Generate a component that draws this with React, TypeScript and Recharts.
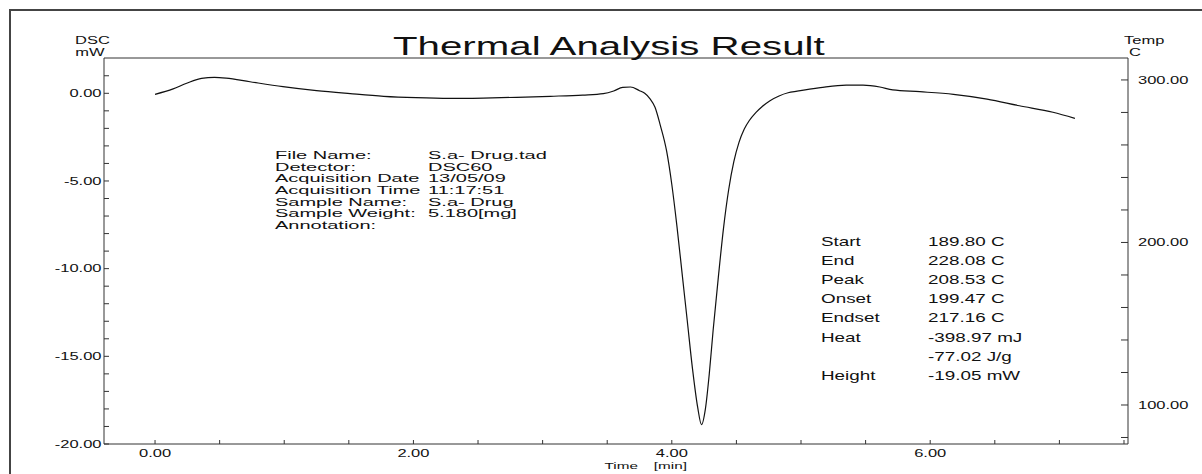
import React from 'react';
import { ComposedChart, Line, XAxis, YAxis, ReferenceLine } from 'recharts';

const FONT = '"Liberation Sans", Arial, Helvetica, sans-serif';
const AXIS = '#333';
const INK = '#111';

// DSC trace (time in min, signal in mW)
const TIME_MIN = [
  0.0, 0.14, 0.245, 0.36, 0.46, 0.55, 0.735, 0.99, 1.25, 1.51, 1.77, 2.02, 2.28, 2.54, 2.8, 3.06,
  3.31, 3.47, 3.55, 3.62, 3.68, 3.75, 3.79, 3.83, 3.87, 3.91, 3.96, 4.0, 4.04, 4.08, 4.12, 4.16,
  4.2, 4.23, 4.26, 4.29, 4.32, 4.36, 4.4, 4.44, 4.48, 4.52, 4.56, 4.6, 4.65, 4.7, 4.76, 4.83,
  4.9, 4.97, 5.15, 5.35, 5.48, 5.61, 5.71, 5.92, 6.18, 6.44, 6.69, 6.95, 7.12,
];
const DSC_MW = [
  -0.06, 0.25, 0.57, 0.85, 0.91, 0.87, 0.66, 0.38, 0.15, -0.02, -0.17, -0.25, -0.29, -0.27, -0.23, -0.17,
  -0.1, -0.02, 0.13, 0.34, 0.36, 0.15, 0.0, -0.3, -0.8, -1.8, -3.3, -5.2, -7.6, -10.3, -13.0, -15.7,
  -17.9, -18.9, -18.0, -16.0, -13.5, -10.5, -7.7, -5.5, -3.9, -2.8, -2.05, -1.55, -1.1, -0.75, -0.42, -0.15,
  0.03, 0.12, 0.32, 0.47, 0.47, 0.36, 0.19, 0.09, -0.06, -0.33, -0.71, -1.08, -1.43,
];

const X_DOMAIN = [-0.395, 7.531];
const X_TICKS = [0, 0.5, 1, 1.5, 2, 2.5, 3, 3.5, 4, 4.5, 5, 5.5, 6, 6.5, 7, 7.5];
const X_LABELS = [0, 2, 4, 6];

const DSC_DOMAIN = [-20, 2.013];
const DSC_TICKS = [-20, -19, -18, -17, -16, -15, -14, -13, -12, -11, -10, -9, -8, -7, -6, -5, -4, -3, -2, -1, 0, 1];
const DSC_LABELS = [0, -5, -10, -15, -20];

const TEMP_DOMAIN = [76, 313.5];
const TEMP_TICKS = [80, 100, 120, 140, 160, 180, 200, 220, 240, 260, 280, 300];
const TEMP_LABELS = [100, 200, 300];

const INFO_LABELS = [
  'File Name:',
  'Detector:',
  'Acquisition Date',
  'Acquisition Time',
  'Sample Name:',
  'Sample Weight:',
  'Annotation:',
];
const INFO_VALUES = ['S.a- Drug.tad', 'DSC60', '13/05/09', '11:17:51', 'S.a- Drug', '5.180[mg]', ''];

const RESULT_LABELS = ['Start', 'End', 'Peak', 'Onset', 'Endset', 'Heat', '', 'Height'];
const RESULT_VALUES = [
  '189.80 C',
  '228.08 C',
  '208.53 C',
  '199.47 C',
  '217.16 C',
  '-398.97 mJ',
  '-77.02 J/g',
  '-19.05 mW',
];

const rows = TIME_MIN.map((t, i) => ({ t, dsc: DSC_MW[i] }));

// text that is stretched sideways like the instrument printout
const SText = ({ x, y, sx, size, anchor = 'start', children }: any) => (
  <text
    transform={`translate(${x},${y}) scale(${sx},1)`}
    fontSize={size}
    textAnchor={anchor}
    fill={INK}
    fontFamily={FONT}
  >
    {children}
  </text>
);

const LeftTick = (props: any) => {
  const { x, y, payload } = props;
  const v = payload.value;
  return (
    <g>
      <line x1={x} x2={x + 5} y1={y} y2={y} stroke={AXIS} />
      {DSC_LABELS.includes(v) && (
        <SText x={x - 2.5} y={y + 3.6} sx={1.65} size={10} anchor="end">
          {v.toFixed(2)}
        </SText>
      )}
    </g>
  );
};

const RightTick = (props: any) => {
  const { x, y, payload } = props;
  const v = payload.value;
  return (
    <g>
      <line x1={x - 7} x2={x} y1={y} y2={y} stroke={AXIS} />
      {TEMP_LABELS.includes(v) && (
        <SText x={x + 10} y={y + 3.6} sx={1.65} size={10}>
          {v.toFixed(2)}
        </SText>
      )}
    </g>
  );
};

const BottomTick = (props: any) => {
  const { x, y, payload } = props;
  const v = payload.value;
  return (
    <g>
      <line x1={x} x2={x} y1={y - 4} y2={y} stroke={AXIS} />
      {X_LABELS.includes(v) && (
        <SText x={x} y={y + 13} sx={1.65} size={10} anchor="middle">
          {v.toFixed(2)}
        </SText>
      )}
    </g>
  );
};

export default function App() {
  return (
    <div style={{ position: 'absolute', left: 0, top: 0, width: 1202, height: 474, background: '#fff' }}>
      <div
        style={{
          position: 'absolute',
          left: 9,
          top: 9,
          width: 1210,
          height: 480,
          borderLeft: '2px solid #444',
          borderTop: '2px solid #444',
        }}
      />
      <div style={{ position: 'absolute', left: 0, top: 0 }}>
        <ComposedChart width={1202} height={474} data={rows} margin={{ top: 58, right: 14, bottom: 0, left: 44 }}>
          <XAxis
            dataKey="t"
            type="number"
            domain={X_DOMAIN}
            ticks={X_TICKS}
            interval={0}
            allowDataOverflow
            tickSize={0}
            tickMargin={0}
            tickLine={false}
            stroke={AXIS}
            height={30}
            tick={(p: any) => <BottomTick {...p} />}
          />
          <YAxis
            yAxisId="dsc"
            orientation="left"
            width={60}
            type="number"
            domain={DSC_DOMAIN}
            ticks={DSC_TICKS}
            interval={0}
            allowDataOverflow
            tickSize={0}
            tickMargin={0}
            tickLine={false}
            stroke={AXIS}
            tick={(p: any) => <LeftTick {...p} />}
          />
          <YAxis
            yAxisId="temp"
            orientation="right"
            width={60}
            type="number"
            domain={TEMP_DOMAIN}
            ticks={TEMP_TICKS}
            interval={0}
            allowDataOverflow
            tickSize={0}
            tickMargin={0}
            tickLine={false}
            stroke={AXIS}
            tick={(p: any) => <RightTick {...p} />}
          />
          <ReferenceLine yAxisId="dsc" y={DSC_DOMAIN[1]} stroke={AXIS} />
          <Line
            yAxisId="dsc"
            dataKey="dsc"
            type="monotone"
            stroke={INK}
            strokeWidth={1.2}
            dot={false}
            activeDot={false}
            isAnimationActive={false}
          />
        </ComposedChart>
      </div>
      <svg width={1202} height={474} style={{ position: 'absolute', left: 0, top: 0, pointerEvents: 'none' }}>
        <SText x={393} y={55} sx={1.61} size={25}>
          Thermal Analysis Result
        </SText>
        <SText x={92.5} y={44} sx={1.65} size={10} anchor="middle">
          DSC
        </SText>
        <SText x={90} y={56} sx={1.65} size={10} anchor="middle">
          mW
        </SText>
        <SText x={1124} y={44} sx={1.65} size={10}>
          Temp
        </SText>
        <SText x={1135} y={56} sx={1.65} size={10} anchor="middle">
          C
        </SText>
        <SText x={647} y={469} sx={1.7} size={9}>
          <tspan x={-25}>Time</tspan>
          <tspan x={4}>[min]</tspan>
        </SText>
        {INFO_LABELS.map((s, i) => (
          <SText key={'il' + i} x={275} y={159 + i * 11.65} sx={2.0} size={10}>
            {s}
          </SText>
        ))}
        {INFO_VALUES.map((s, i) => (
          <SText key={'iv' + i} x={428} y={159 + i * 11.65} sx={2.0} size={10}>
            {s}
          </SText>
        ))}
        {RESULT_LABELS.map((s, i) => (
          <SText key={'rl' + i} x={821} y={245.5 + i * 19.2} sx={1.45} size={13}>
            {s}
          </SText>
        ))}
        {RESULT_VALUES.map((s, i) => (
          <SText key={'rv' + i} x={928} y={245.5 + i * 19.2} sx={1.45} size={13}>
            {s}
          </SText>
        ))}
      </svg>
    </div>
  );
}
